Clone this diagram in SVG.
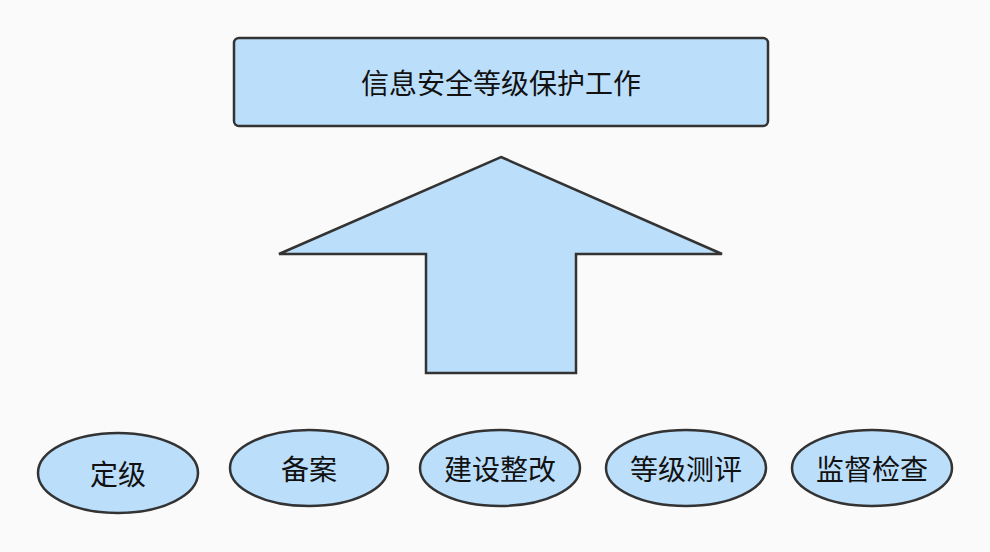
<svg xmlns="http://www.w3.org/2000/svg" width="990" height="552" viewBox="0 0 990 552">
<style>
.s{fill:#bbdefb;stroke:#333;stroke-width:2.5}
text{font-family:"Noto Sans CJK SC","Noto Sans",sans-serif;font-size:28px;fill:#111;text-anchor:middle;dominant-baseline:central}
</style>
<rect width="990" height="552" fill="#fafafa"/>
<g id="top"><rect class="s" x="234" y="38" width="534" height="88" rx="5"/><text x="501" y="82">信息安全等级保护工作</text></g>
<g id="connectors"><polygon class="s" points="501,157 722,254 576,254 576,373 426,373 426,254 279,254"/></g>
<g id="n1"><ellipse class="s" cx="118" cy="473" rx="80" ry="40"/><text x="118" y="473">定级</text></g>
<g id="n2"><ellipse class="s" cx="309" cy="468" rx="79" ry="38"/><text x="309" y="468">备案</text></g>
<g id="n3"><ellipse class="s" cx="500" cy="468" rx="80" ry="38"/><text x="500" y="468">建设整改</text></g>
<g id="n4"><ellipse class="s" cx="686" cy="468" rx="80" ry="38"/><text x="686" y="468">等级测评</text></g>
<g id="n5"><ellipse class="s" cx="872" cy="468" rx="80" ry="38"/><text x="872" y="468">监督检查</text></g>
</svg>
